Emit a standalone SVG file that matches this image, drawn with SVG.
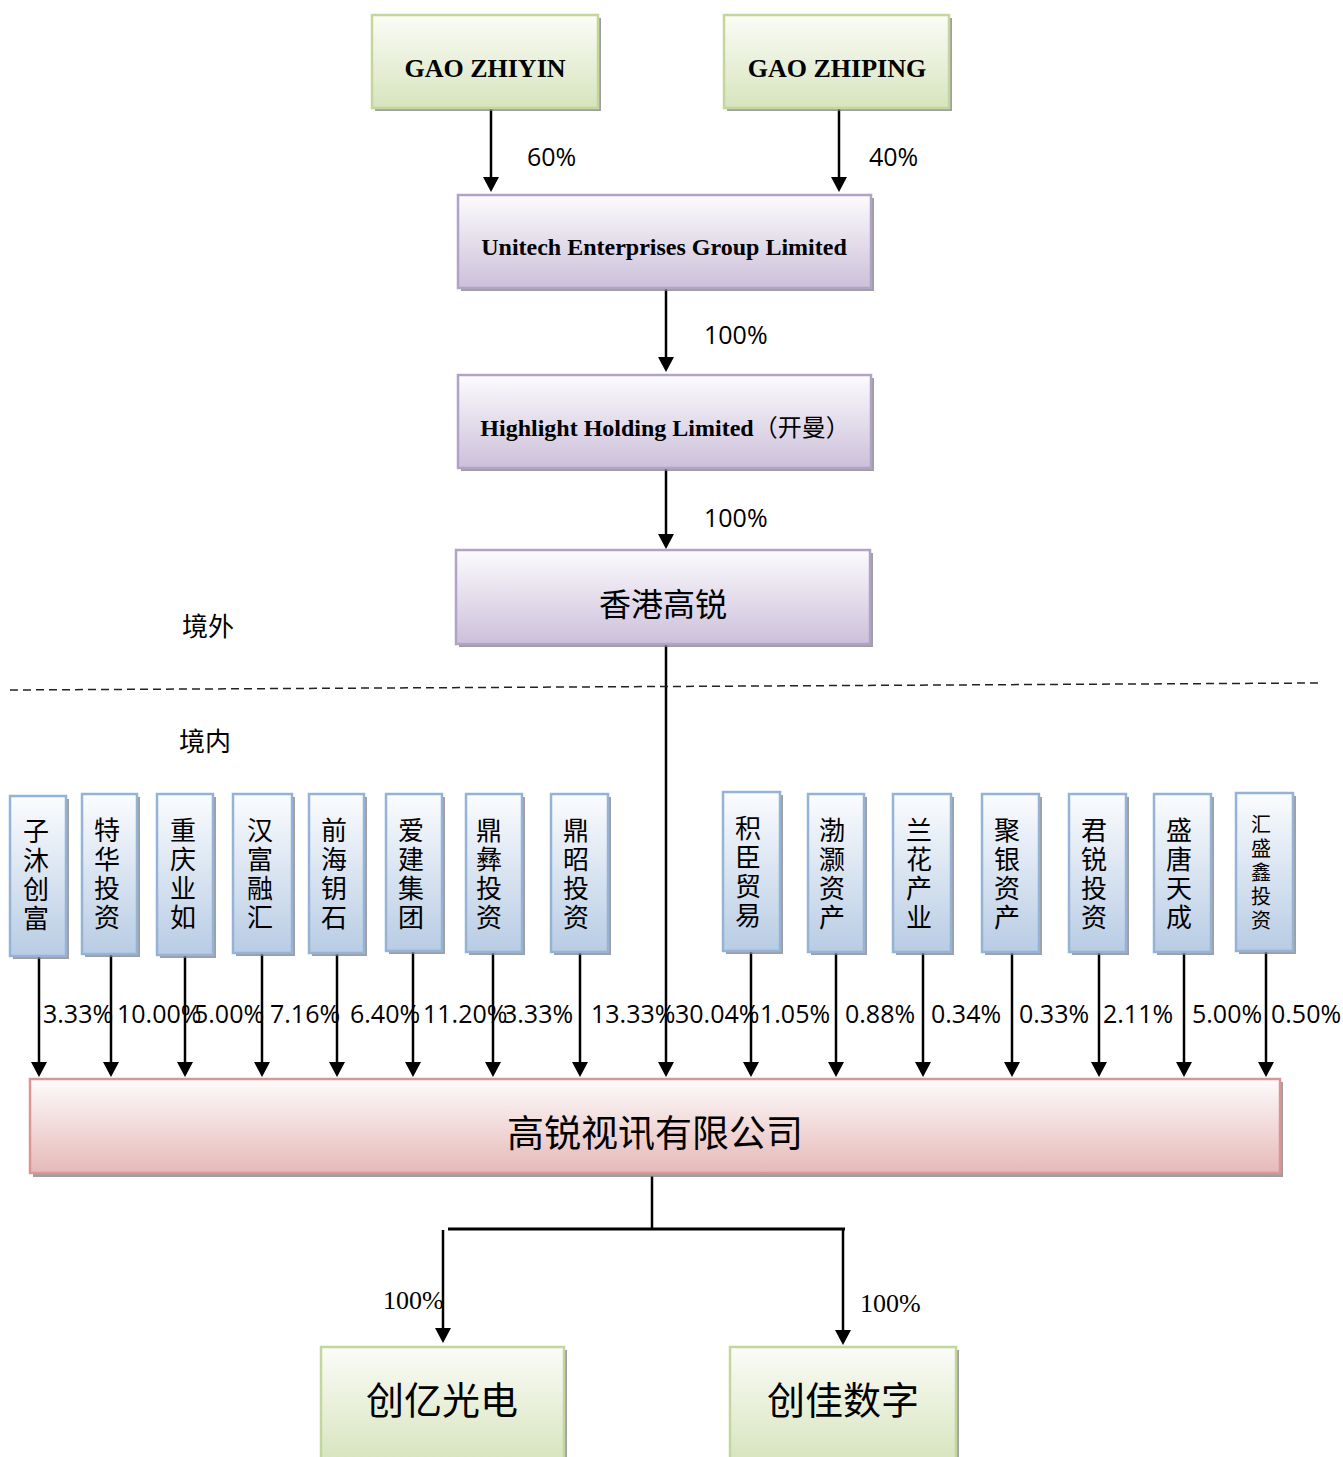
<svg xmlns="http://www.w3.org/2000/svg" width="1343" height="1457" viewBox="0 0 1343 1457">
<style>
.sh{fill:#7f7f7f;opacity:.75}
.g{fill:url(#gg);stroke:#c3d69b;stroke-width:2.5}
.p{fill:url(#gp);stroke:#b3a2c7;stroke-width:2.5}
.b{fill:url(#gb);stroke:#95b3d7;stroke-width:2.5}
.r{fill:url(#gr);stroke:#d99694;stroke-width:2.5}
.en{font-family:"Liberation Serif",serif;font-weight:bold;fill:#000;text-anchor:middle}
.cn{font-family:"Noto Sans CJK SC",sans-serif;fill:#000;text-anchor:middle}
.pct{font-family:"Open Sans","Noto Sans",sans-serif;font-size:25px;fill:#000}
.tpct{font-family:"Liberation Serif",serif;font-size:26px;fill:#000}
.ln{stroke:#000;stroke-width:2.5;fill:none}
</style>
<defs>
<linearGradient id="gg" x1="0" y1="0" x2="0" y2="1"><stop offset="0" stop-color="#fbfcf8"/><stop offset="1" stop-color="#d7e4bd"/></linearGradient>
<linearGradient id="gp" x1="0" y1="0" x2="0" y2="1"><stop offset="0" stop-color="#fcfbfd"/><stop offset="1" stop-color="#ccc0da"/></linearGradient>
<linearGradient id="gb" x1="0" y1="0" x2="0" y2="1"><stop offset="0" stop-color="#fbfcfe"/><stop offset="1" stop-color="#b8cce4"/></linearGradient>
<linearGradient id="gr" x1="0" y1="0" x2="0" y2="1"><stop offset="0" stop-color="#fdfbfb"/><stop offset="1" stop-color="#e6b9b8"/></linearGradient>
</defs>

<g id="connectors">
<line class="ln" x1="491" y1="109" x2="491" y2="178"/>
<path d="M483,177 L499,177 L491,192 z"/>
<line class="ln" x1="839" y1="109" x2="839" y2="178"/>
<path d="M831,177 L847,177 L839,192 z"/>
<line class="ln" x1="666" y1="289" x2="666" y2="358"/>
<path d="M658,357 L674,357 L666,372 z"/>
<line class="ln" x1="666" y1="469" x2="666" y2="535"/>
<path d="M658,534 L674,534 L666,549 z"/>
<line class="ln" x1="666" y1="645" x2="666" y2="1063"/>
<path d="M658,1062 L674,1062 L666,1077 z"/>
<g id="share-arrows">
<line class="ln" x1="39" y1="957" x2="39" y2="1063"/><path d="M31,1062 L47,1062 L39,1077 z"/>
<line class="ln" x1="111" y1="955" x2="111" y2="1063"/><path d="M103,1062 L119,1062 L111,1077 z"/>
<line class="ln" x1="185" y1="956" x2="185" y2="1063"/><path d="M177,1062 L193,1062 L185,1077 z"/>
<line class="ln" x1="262" y1="954" x2="262" y2="1063"/><path d="M254,1062 L270,1062 L262,1077 z"/>
<line class="ln" x1="337" y1="954" x2="337" y2="1063"/><path d="M329,1062 L345,1062 L337,1077 z"/>
<line class="ln" x1="413" y1="952" x2="413" y2="1063"/><path d="M405,1062 L421,1062 L413,1077 z"/>
<line class="ln" x1="493" y1="953" x2="493" y2="1063"/><path d="M485,1062 L501,1062 L493,1077 z"/>
<line class="ln" x1="580" y1="953" x2="580" y2="1063"/><path d="M572,1062 L588,1062 L580,1077 z"/>
<line class="ln" x1="751" y1="952" x2="751" y2="1063"/><path d="M743,1062 L759,1062 L751,1077 z"/>
<line class="ln" x1="836" y1="953" x2="836" y2="1063"/><path d="M828,1062 L844,1062 L836,1077 z"/>
<line class="ln" x1="923" y1="953" x2="923" y2="1063"/><path d="M915,1062 L931,1062 L923,1077 z"/>
<line class="ln" x1="1012" y1="953" x2="1012" y2="1063"/><path d="M1004,1062 L1020,1062 L1012,1077 z"/>
<line class="ln" x1="1099" y1="953" x2="1099" y2="1063"/><path d="M1091,1062 L1107,1062 L1099,1077 z"/>
<line class="ln" x1="1184" y1="953" x2="1184" y2="1063"/><path d="M1176,1062 L1192,1062 L1184,1077 z"/>
<line class="ln" x1="1266" y1="952" x2="1266" y2="1063"/><path d="M1258,1062 L1274,1062 L1266,1077 z"/>
</g>
<line class="ln" x1="652" y1="1176" x2="652" y2="1229"/>
<line class="ln" x1="448" y1="1229" x2="845" y2="1229" style="stroke-width:3"/>
<line class="ln" x1="443" y1="1230" x2="443" y2="1329"/><path d="M435,1328 L451,1328 L443,1343 z"/>
<line class="ln" x1="843" y1="1229" x2="843" y2="1331"/><path d="M835,1330 L851,1330 L843,1345 z"/>
<line x1="10" y1="690" x2="1320" y2="683" stroke="#222" stroke-width="1.5" stroke-dasharray="8 5"/>
</g>

<g id="labels">
<text class="pct" x="527" y="166">60%</text>
<text class="pct" x="869" y="166">40%</text>
<text class="pct" x="704" y="344">100%</text>
<text class="pct" x="704" y="527">100%</text>
<text class="pct" x="43" y="1023">3.33%</text>
<text class="pct" x="117" y="1023">10.00%</text>
<text class="pct" x="194" y="1023">5.00%</text>
<text class="pct" x="270" y="1023">7.16%</text>
<text class="pct" x="350" y="1023">6.40%</text>
<text class="pct" x="423" y="1023">11.20%</text>
<text class="pct" x="503" y="1023">3.33%</text>
<text class="pct" x="591" y="1023">13.33%</text>
<text class="pct" x="675" y="1023">30.04%</text>
<text class="pct" x="760" y="1023">1.05%</text>
<text class="pct" x="845" y="1023">0.88%</text>
<text class="pct" x="931" y="1023">0.34%</text>
<text class="pct" x="1019" y="1023">0.33%</text>
<text class="pct" x="1103" y="1023">2.11%</text>
<text class="pct" x="1192" y="1023">5.00%</text>
<text class="pct" x="1271" y="1023">0.50%</text>
<text class="tpct" x="383" y="1309">100%</text>
<text class="tpct" x="860" y="1312">100%</text>
<text class="cn" x="208" y="636" font-size="26">境外</text>
<text class="cn" x="205" y="751" font-size="26">境内</text>
</g>

<g id="gao-zhiyin"><rect class="sh" x="375" y="18" width="226" height="93"/><rect class="g" x="372" y="15" width="226" height="93"/><text class="en" x="485" y="77" font-size="26">GAO ZHIYIN</text></g>
<g id="gao-zhiping"><rect class="sh" x="727" y="18" width="225" height="93"/><rect class="g" x="724" y="15" width="225" height="93"/><text class="en" x="837" y="77" font-size="26">GAO ZHIPING</text></g>
<g id="unitech"><rect class="sh" x="461" y="198" width="413" height="93"/><rect class="p" x="458" y="195" width="413" height="93"/><text class="en" x="664" y="255" font-size="24">Unitech Enterprises Group Limited</text></g>
<g id="highlight"><rect class="sh" x="461" y="378" width="413" height="93"/><rect class="p" x="458" y="375" width="413" height="93"/><text class="en" x="665" y="436" font-size="24">Highlight Holding Limited<tspan font-family="'Noto Sans CJK SC',sans-serif" font-weight="normal">（开曼）</tspan></text></g>
<g id="hk-gaorui"><rect class="sh" x="459" y="553" width="414" height="94"/><rect class="p" x="456" y="550" width="414" height="94"/><text class="cn" x="663" y="616" font-size="32">香港高锐</text></g>

<g id="s1"><rect class="sh" x="13" y="799" width="56" height="160"/><rect class="b" x="10" y="796" width="56" height="160"/><text class="cn" font-size="26"><tspan x="36" y="841">子</tspan><tspan x="36" y="870">沐</tspan><tspan x="36" y="899">创</tspan><tspan x="36" y="928">富</tspan></text></g>
<g id="s2"><rect class="sh" x="85" y="797" width="55" height="160"/><rect class="b" x="82" y="794" width="55" height="160"/><text class="cn" font-size="26"><tspan x="107" y="840">特</tspan><tspan x="107" y="869">华</tspan><tspan x="107" y="898">投</tspan><tspan x="107" y="927">资</tspan></text></g>
<g id="s3"><rect class="sh" x="160" y="797" width="56" height="161"/><rect class="b" x="157" y="794" width="56" height="161"/><text class="cn" font-size="26"><tspan x="183" y="840">重</tspan><tspan x="183" y="869">庆</tspan><tspan x="183" y="898">业</tspan><tspan x="183" y="927">如</tspan></text></g>
<g id="s4"><rect class="sh" x="236" y="797" width="59" height="159"/><rect class="b" x="233" y="794" width="59" height="159"/><text class="cn" font-size="26"><tspan x="260" y="840">汉</tspan><tspan x="260" y="869">富</tspan><tspan x="260" y="898">融</tspan><tspan x="260" y="927">汇</tspan></text></g>
<g id="s5"><rect class="sh" x="312" y="797" width="55" height="159"/><rect class="b" x="309" y="794" width="55" height="159"/><text class="cn" font-size="26"><tspan x="334" y="840">前</tspan><tspan x="334" y="869">海</tspan><tspan x="334" y="898">钥</tspan><tspan x="334" y="927">石</tspan></text></g>
<g id="s6"><rect class="sh" x="389" y="797" width="56" height="157"/><rect class="b" x="386" y="794" width="56" height="157"/><text class="cn" font-size="26"><tspan x="411" y="840">爱</tspan><tspan x="411" y="869">建</tspan><tspan x="411" y="898">集</tspan><tspan x="411" y="927">团</tspan></text></g>
<g id="s7"><rect class="sh" x="469" y="797" width="56" height="158"/><rect class="b" x="466" y="794" width="56" height="158"/><text class="cn" font-size="26"><tspan x="489" y="840">鼎</tspan><tspan x="489" y="869">彝</tspan><tspan x="489" y="898">投</tspan><tspan x="489" y="927">资</tspan></text></g>
<g id="s8"><rect class="sh" x="554" y="797" width="57" height="158"/><rect class="b" x="551" y="794" width="57" height="158"/><text class="cn" font-size="26"><tspan x="576" y="840">鼎</tspan><tspan x="576" y="869">昭</tspan><tspan x="576" y="898">投</tspan><tspan x="576" y="927">资</tspan></text></g>
<g id="s9"><rect class="sh" x="726" y="795" width="57" height="159"/><rect class="b" x="723" y="792" width="57" height="159"/><text class="cn" font-size="26"><tspan x="748" y="838">积</tspan><tspan x="748" y="867">臣</tspan><tspan x="748" y="896">贸</tspan><tspan x="748" y="925">易</tspan></text></g>
<g id="s10"><rect class="sh" x="811" y="797" width="56" height="158"/><rect class="b" x="808" y="794" width="56" height="158"/><text class="cn" font-size="26"><tspan x="832" y="840">渤</tspan><tspan x="832" y="869">灏</tspan><tspan x="832" y="898">资</tspan><tspan x="832" y="927">产</tspan></text></g>
<g id="s11"><rect class="sh" x="896" y="797" width="58" height="158"/><rect class="b" x="893" y="794" width="58" height="158"/><text class="cn" font-size="26"><tspan x="919" y="840">兰</tspan><tspan x="919" y="869">花</tspan><tspan x="919" y="898">产</tspan><tspan x="919" y="927">业</tspan></text></g>
<g id="s12"><rect class="sh" x="985" y="797" width="57" height="158"/><rect class="b" x="982" y="794" width="57" height="158"/><text class="cn" font-size="26"><tspan x="1007" y="840">聚</tspan><tspan x="1007" y="869">银</tspan><tspan x="1007" y="898">资</tspan><tspan x="1007" y="927">产</tspan></text></g>
<g id="s13"><rect class="sh" x="1072" y="797" width="57" height="158"/><rect class="b" x="1069" y="794" width="57" height="158"/><text class="cn" font-size="26"><tspan x="1094" y="840">君</tspan><tspan x="1094" y="869">锐</tspan><tspan x="1094" y="898">投</tspan><tspan x="1094" y="927">资</tspan></text></g>
<g id="s14"><rect class="sh" x="1157" y="797" width="57" height="158"/><rect class="b" x="1154" y="794" width="57" height="158"/><text class="cn" font-size="26"><tspan x="1179" y="840">盛</tspan><tspan x="1179" y="869">唐</tspan><tspan x="1179" y="898">天</tspan><tspan x="1179" y="927">成</tspan></text></g>
<g id="s15"><rect class="sh" x="1239" y="796" width="57" height="158"/><rect class="b" x="1236" y="793" width="57" height="158"/><text class="cn" font-size="20"><tspan x="1261" y="832">汇</tspan><tspan x="1261" y="856">盛</tspan><tspan x="1261" y="880">鑫</tspan><tspan x="1261" y="904">投</tspan><tspan x="1261" y="928">资</tspan></text></g>

<g id="gaorui"><rect class="sh" x="33" y="1082" width="1250" height="95"/><rect class="r" x="30" y="1079" width="1250" height="94"/><text class="cn" x="655" y="1147" font-size="37">高锐视讯有限公司</text></g>
<g id="chuangyi"><rect class="sh" x="324" y="1350" width="243" height="115"/><rect class="g" x="321" y="1347" width="243" height="115"/><text class="cn" x="442" y="1414" font-size="38">创亿光电</text></g>
<g id="chuangjia"><rect class="sh" x="733" y="1350" width="226" height="115"/><rect class="g" x="730" y="1347" width="226" height="115"/><text class="cn" x="843" y="1414" font-size="38">创佳数字</text></g>
</svg>
